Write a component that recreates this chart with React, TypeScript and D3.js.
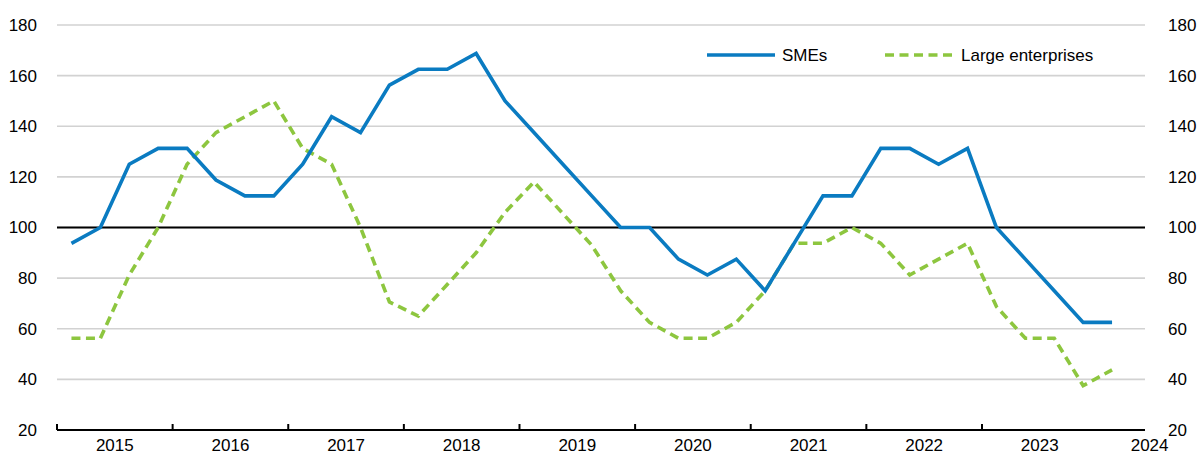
import React from 'react';
import * as d3 from 'd3';

// quarterly index, 2015Q1 .. 2024Q1
const quarters = [
  '2015Q1', '2015Q2', '2015Q3', '2015Q4',
  '2016Q1', '2016Q2', '2016Q3', '2016Q4',
  '2017Q1', '2017Q2', '2017Q3', '2017Q4',
  '2018Q1', '2018Q2', '2018Q3', '2018Q4',
  '2019Q1', '2019Q2', '2019Q3', '2019Q4',
  '2020Q1', '2020Q2', '2020Q3', '2020Q4',
  '2021Q1', '2021Q2', '2021Q3', '2021Q4',
  '2022Q1', '2022Q2', '2022Q3', '2022Q4',
  '2023Q1', '2023Q2', '2023Q3', '2023Q4',
  '2024Q1',
];

const smes = [
  93.75, 100, 125, 131.25, 131.25, 118.75, 112.5, 112.5,
  125, 143.75, 137.5, 156.25, 162.5, 162.5, 168.75, 150,
  137.5, 125, 112.5, 100, 100, 87.5, 81.25, 87.5,
  75, 93.75, 112.5, 112.5, 131.25, 131.25, 125, 131.25,
  100, 87.5, 75, 62.5, 62.5,
];

const large = [
  56.25, 56.25, 81.25, 100, 125, 137.5, 143.75, 150,
  131.25, 125, 100, 70.6, 65, 77.5, 90, 106,
  118, 105.5, 93, 75, 62.5, 56.25, 56.25, 62.5,
  75, 93.75, 93.75, 100, 93.75, 81.25, 87.5, 93.75,
  68.75, 56.25, 56.25, 37.5, 43.75,
];

const yearLabels = ['2015', '2016', '2017', '2018', '2019', '2020', '2021', '2022', '2023', '2024'];
const yTicks = [20, 40, 60, 80, 100, 120, 140, 160, 180];

const W = 1200;
const H = 454;
const FONT = '"Liberation Sans", Arial, sans-serif';

const qToNum = (q: string) => +q.slice(0, 4) + (+q.slice(5) - 0.5) / 4;

export default function App() {
  const x = d3.scaleLinear().domain([2015, 2024.41]).range([57, 1145]);
  const y = d3.scaleLinear().domain([20, 180]).range([430, 25]);

  const line = d3
    .line<number>()
    .x((_d, i) => x(qToNum(quarters[i])))
    .y((d) => y(d));

  const [x0, x1] = x.range();

  return (
    <svg
      width={W}
      height={H}
      style={{ position: 'absolute', left: 0, top: 0, background: '#fff' }}
      fontFamily={FONT}
    >
      {/* gridlines */}
      {yTicks.slice(1).map((t) => (
        <line key={t} x1={x0} x2={x1} y1={y(t)} y2={y(t)} stroke="#d2d2d2" strokeWidth={1.6} />
      ))}

      {/* left / right axis labels */}
      {yTicks.map((t) => (
        <g key={t} fontSize={17} fill="#000">
          <text x={37} y={y(t)} textAnchor="end" dy="0.35em">{t}</text>
          <text x={1168} y={y(t)} textAnchor="start" dy="0.35em">{t}</text>
        </g>
      ))}

      {/* 100 reference line */}
      <line x1={x0} x2={x1} y1={y(100)} y2={y(100)} stroke="#000" strokeWidth={1.8} />

      {/* x axis */}
      <line x1={x0} x2={x1} y1={y(20)} y2={y(20)} stroke="#000" strokeWidth={2} />
      {d3.range(2015, 2024).map((yr) => (
        <line key={yr} x1={x(yr)} x2={x(yr)} y1={y(20)} y2={y(20) - 6} stroke="#000" strokeWidth={2} />
      ))}
      {yearLabels.map((lbl) => {
        const yr = +lbl;
        const cx = yr < 2024 ? x(yr + 0.5) : x(2024.45);
        return (
          <text key={lbl} x={cx} y={451} textAnchor="middle" fontSize={17} fill="#000">
            {lbl}
          </text>
        );
      })}

      {/* series */}
      <path d={line(large) ?? ''} fill="none" stroke="#8dc63f" strokeWidth={3.6} strokeDasharray="9,5.5" />
      <path d={line(smes) ?? ''} fill="none" stroke="#0a7bc1" strokeWidth={3.6} strokeLinejoin="miter" />

      {/* legend */}
      <line x1={707} x2={775} y1={55} y2={55} stroke="#0a7bc1" strokeWidth={3.6} />
      <text x={782} y={55} dy="0.35em" fontSize={17}>SMEs</text>
      <line x1={885} x2={953} y1={55} y2={55} stroke="#8dc63f" strokeWidth={3.6} strokeDasharray="9,5.5" />
      <text x={961} y={55} dy="0.35em" fontSize={17}>Large enterprises</text>
    </svg>
  );
}
